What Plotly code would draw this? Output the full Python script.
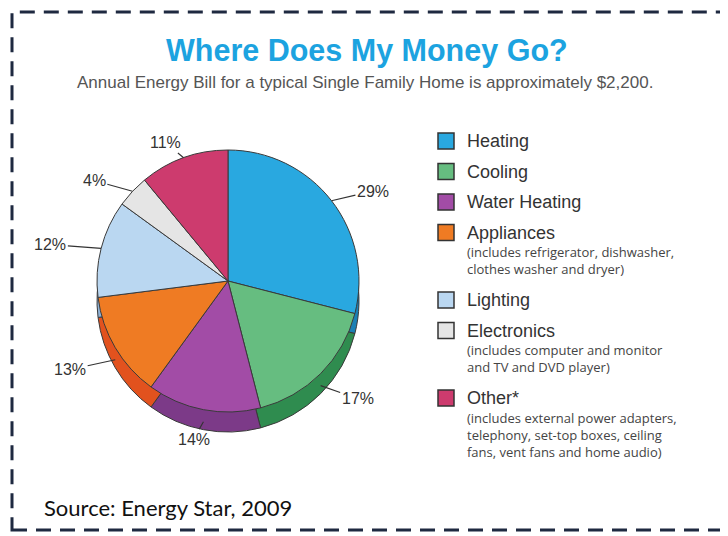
import math
import plotly.graph_objects as go

# ---- data ----
categories = ["Heating", "Cooling", "Water Heating", "Appliances", "Lighting", "Electronics", "Other*"]
shares = [29, 17, 14, 13, 12, 4, 11]
descriptions = [
    [],
    [],
    [],
    ["(includes refrigerator, dishwasher,", "clothes washer and dryer)"],
    [],
    ["(includes computer and monitor", "and TV and DVD player)"],
    ["(includes external power adapters,", "telephony, set-top boxes, ceiling", "fans, vent fans and home audio)"],
]
top_colors = ["#29a8e0", "#66bd80", "#a24ca6", "#ef7b23", "#bad7f1", "#e5e5e5", "#cd3b6e"]
side_colors = ["#1a80b5", "#2f8c4f", "#7c3a88", "#e2521e", "#8fb2d6", "#aaaaaa", "#9c2a56"]

title_text = "Where Does My Money Go?"
subtitle_text = "Annual Energy Bill for a typical Single Family Home is approximately $2,200."
source_text = "Source: Energy Star, 2009"

# ---- layout geometry (page has an 8px body margin) ----
W, H = 728, 536
OFF = 8
cx, cy, R, depth = 228 - OFF, 281 - OFF, 131, 20


def px2x(x):
    return (x - OFF) / W


def px2y(y):
    return 1 - (y - OFF) / H


def dom(center_y):
    return dict(x=[(cx - R) / W, (cx + R) / W],
                y=[1 - (center_y + R) / H, 1 - (center_y - R) / H])


fig = go.Figure()

# extruded side of the pie (darker copies offset downward)
for off, lw in ((depth / 2, 0), (depth, 1)):
    fig.add_trace(go.Pie(
        values=shares, labels=categories, sort=False, direction="clockwise", rotation=0,
        marker=dict(colors=side_colors, line=dict(color="#3a3a3a", width=lw)),
        textinfo="none", hoverinfo="skip", showlegend=False, domain=dom(cy + off),
    ))

# top face
fig.add_trace(go.Pie(
    values=shares, labels=categories, sort=False, direction="clockwise", rotation=0,
    marker=dict(colors=top_colors, line=dict(color="#3a3a3a", width=1)),
    textinfo="none", hovertemplate="%{label}: %{value}%<extra></extra>", showlegend=False,
    domain=dom(cy),
))

annotations = []
shapes = []

# percentage labels with leader lines
total = sum(shares)
cum = 0
for v in shares:
    mid = (cum + v / 2) / total * 2 * math.pi
    cum += v
    s, c = math.sin(mid), math.cos(mid)
    px = cx + R * s
    py = cy - R * c + (depth * 0.6 if c < 0 else 0)
    lx = cx + 1.40 * R * s
    ly = cy - 1.12 * R * c + (depth * 0.7 if c < 0 else 0)
    annotations.append(dict(
        x=px / W, y=1 - py / H, xref="paper", yref="paper",
        ax=lx - px, ay=ly - py, showarrow=True, arrowhead=0, arrowwidth=1.1,
        arrowcolor="#333333", text=f"{v}%",
        font=dict(family="Liberation Sans, Arial, sans-serif", size=16, color="#333333"),
    ))

# legend (keys + labels + descriptions)
lx0, key = 438, 16
y = 141
for cat, col, desc in zip(categories, top_colors, descriptions):
    shapes.append(dict(type="rect", xref="paper", yref="paper",
                       x0=px2x(lx0), x1=px2x(lx0 + key),
                       y0=px2y(y + key / 2), y1=px2y(y - key / 2),
                       fillcolor=col, line=dict(color="#333333", width=1.5)))
    annotations.append(dict(x=px2x(465), y=px2y(y), xref="paper", yref="paper",
                            xanchor="left", yanchor="middle", showarrow=False, text=cat,
                            font=dict(family="Liberation Sans, Arial, sans-serif", size=18,
                                      color="#333333")))
    yy = y + 19.5
    for line in desc:
        annotations.append(dict(x=px2x(465), y=px2y(yy), xref="paper", yref="paper",
                                xanchor="left", yanchor="middle", showarrow=False, text=line,
                                font=dict(family="Open Sans, Lato, sans-serif", size=13,
                                          color="#444444")))
        yy += 17
    y = (yy - 17 + 31) if desc else (y + 30.5)

annotations += [
    dict(x=px2x(366.5), y=px2y(51), xref="paper", yref="paper", showarrow=False,
         xanchor="center", yanchor="middle", text="<b>" + title_text + "</b>",
         font=dict(family="Liberation Sans, Arial, sans-serif", size=30.5, color="#1ca3e0")),
    dict(x=px2x(365), y=px2y(82), xref="paper", yref="paper", showarrow=False,
         xanchor="center", yanchor="middle", text=subtitle_text,
         font=dict(family="Liberation Sans, Arial, sans-serif", size=17, color="#555555")),
    dict(x=px2x(42), y=px2y(507), xref="paper", yref="paper", showarrow=False,
         xanchor="left", yanchor="middle", text=source_text,
         font=dict(family="Lato, Open Sans, sans-serif", size=22, color="#111111")),
]

shapes.append(dict(type="rect", xref="paper", yref="paper",
                   x0=px2x(12), x1=1.05, y0=px2y(530), y1=px2y(12),
                   line=dict(color="#1e2940", width=3, dash="15px,9px")))

fig.update_layout(
    width=W, height=H,
    margin=dict(l=0, r=0, t=0, b=0),
    paper_bgcolor="white", plot_bgcolor="white",
    showlegend=False,
    annotations=annotations,
    shapes=shapes,
)

fig.write_html("out.html")
